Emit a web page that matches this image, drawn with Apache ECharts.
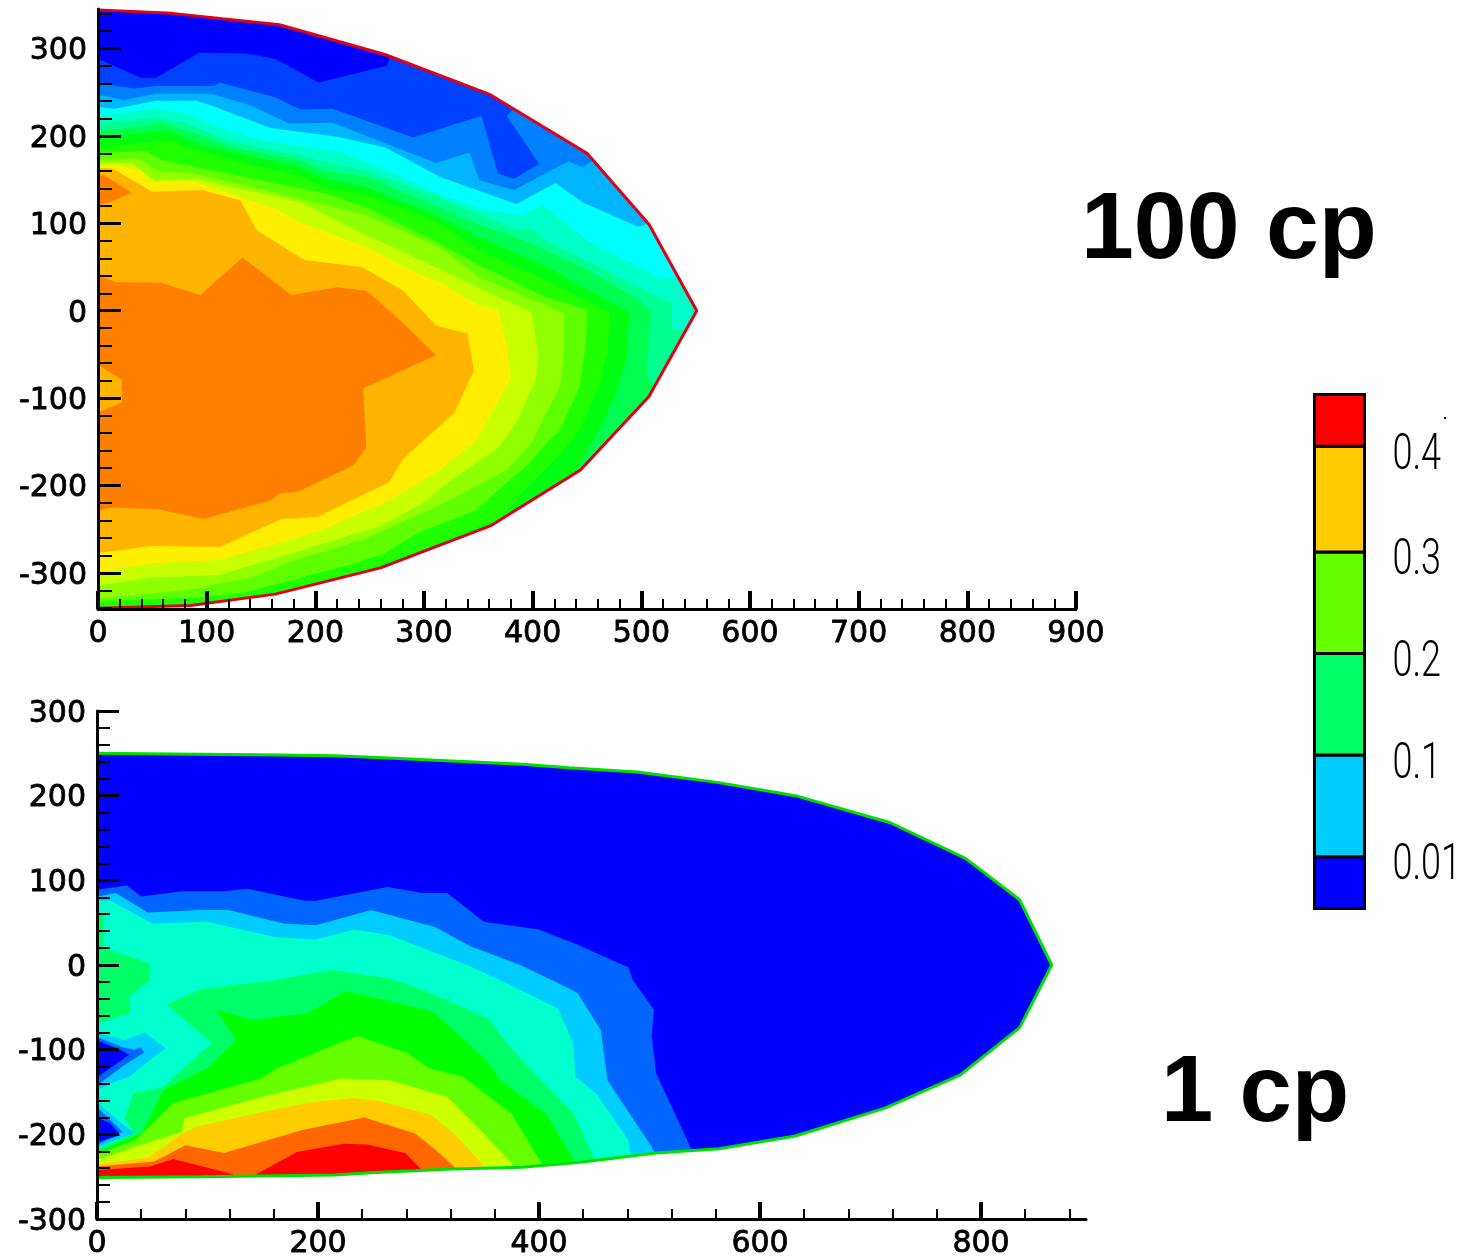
<!DOCTYPE html>
<html><head><meta charset="utf-8">
<style>html,body{margin:0;padding:0;background:#fff}#c{width:1462px;height:1256px}</style>
<script src="https://cdn.jsdelivr.net/npm/echarts@6/dist/echarts.min.js"></script>
</head><body><div id="c"></div>
<script>
// ---------- tick labels ----------
const topXMajor=[0,100,200,300,400,500,600,700,800,900];
const topXMinor=[20,40,60,80,120,140,160,180,220,240,260,280,320,340,360,380,420,440,460,480,520,540,560,580,620,640,660,680,720,740,760,780,820,840,860,880];
const topYMajor=[-300,-200,-100,0,100,200,300];
const topYMinor=[-340,-320,-280,-260,-240,-220,-180,-160,-140,-120,-80,-60,-40,-20,20,40,60,80,120,140,160,180,220,240,260,280,320,340];
const botXMajor=[0,200,400,600,800];
const botXMinor=[40,80,120,160,240,280,320,360,440,480,520,560,640,680,720,760,840,880];
const botYMajor=[-300,-200,-100,0,100,200,300];
const botYMinor=[-280,-260,-240,-220,-180,-160,-140,-120,-80,-60,-40,-20,20,40,60,80,120,140,160,180,220,240,260,280];

// ---------- 100 cp: outline and contour lines (x, y) ----------
const topOutline=[[0,344],[68,340],[167,327],[264,293],[361,247],[450,180],[507,99],[551,0],[507,-98],[444,-182],[361,-246],[260,-294],[163,-324],[85,-337],[0,-340]];
const topC1=[[0,288],[13,281],[40,266],[53,266],[93,295],[136,294],[163,288],[203,261],[266,280],[269,293],[275,310]];
const topC2=[[0,260],[34,254],[53,257],[106,257],[112,261],[163,244],[186,230],[216,231],[290,198],[353,223],[368,157],[383,151],[406,168],[376,223],[383,231],[395,245]];
const topC3=[[0,247],[24,241],[53,248],[104,248],[140,235],[176,214],[216,215],[311,169],[342,181],[351,149],[383,138],[433,171],[446,164],[452,169],[465,180]];
const topC4=[[0,233],[15,231],[53,240],[91,240],[108,233],[159,209],[220,199],[264,187],[315,153],[385,122],[421,146],[446,124],[497,96],[507,100],[520,110]];
const topC5=[[0,223],[52,231],[80,226],[119,206],[151,195],[186,188],[225,181],[278,154],[317,132],[351,117],[390,109],[409,121],[450,81],[517,38],[535,37],[560,37]];
const topC6=[[0,214],[52,221],[80,215],[119,195],[151,186],[186,178],[209,170],[247,160],[314,129],[381,95],[391,92],[397,95],[415,78],[455,54],[507,20],[528,9],[528,-20],[538,-22],[560,-25]];
const topC7=[[0,205],[59,214],[89,203],[126,186],[186,172],[209,160],[247,153],[314,118],[351,98],[392,81],[452,46],[498,12],[509,-2],[505,-76],[512,-85],[526,-102]];
const topC8=[[0,198],[64,206],[98,189],[186,164],[209,151],[247,141],[308,111],[351,84],[413,50],[489,-2],[486,-57],[477,-94],[461,-137],[452,-157],[443,-177],[434,-199]];
const topC9=[[0,186],[64,195],[105,178],[186,154],[209,141],[247,132],[314,101],[351,69],[413,35],[471,-2],[469,-45],[461,-87],[443,-137],[420,-171],[388,-211],[372,-236],[296,-274],[239,-299],[232,-319]];
const topC10=[[0,180],[43,183],[59,172],[119,157],[209,134],[247,118],[308,81],[351,52],[413,15],[450,1],[449,-37],[443,-87],[425,-137],[415,-148],[397,-174],[360,-214],[348,-228],[296,-253],[264,-277],[236,-289],[187,-305],[135,-322],[89,-328],[0,-332]];
const topC11=[[0,172],[37,174],[55,160],[89,157],[144,141],[209,121],[247,109],[314,73],[351,38],[429,-3],[429,-49],[425,-87],[409,-125],[399,-151],[376,-182],[339,-207],[305,-228],[243,-262],[181,-285],[142,-305],[85,-319],[0,-329]];
const topC12=[[0,169],[31,169],[52,149],[89,151],[151,134],[186,124],[247,86],[278,69],[351,26],[399,-2],[405,-49],[403,-79],[386,-125],[369,-156],[348,-174],[321,-197],[299,-220],[259,-247],[218,-262],[163,-283],[112,-302],[49,-305],[0,-314]];
const topC13=[[0,166],[19,166],[39,160],[51,147],[87,148],[163,117],[186,101],[247,73],[293,43],[311,35],[351,6],[368,1],[376,-37],[380,-76],[369,-102],[348,-148],[315,-182],[268,-217],[205,-251],[159,-268],[112,-285],[45,-289],[0,-299]];
const topC14=[[0,163],[13,163],[50,136],[96,138],[131,126],[146,92],[190,58],[243,50],[281,23],[311,-17],[340,-26],[346,-68],[328,-117],[281,-169],[268,-196],[201,-236],[169,-238],[112,-270],[49,-269],[0,-277]];
const topC15=[[0,41],[16,33],[58,32],[94,18],[133,61],[178,18],[220,27],[247,23],[281,-14],[311,-51],[244,-89],[247,-156],[235,-177],[184,-207],[167,-209],[159,-217],[97,-238],[55,-227],[13,-225],[0,-228]];
const topNotch=[[0,-62],[22,-79],[22,-105],[0,-116]];
const topPeak=[[0,155],[6,155],[31,135],[9,123],[0,121]];
const topColors=['#0000ff','#0040ff','#0080ff','#00b4ff','#00ffff','#00ffc8','#00ff90','#00ff50','#00ff10','#20ff00','#60ff00','#90ff00','#c8ff00','#ffee00','#ffb400','#ff8000'];

// ---------- 1 cp ----------
const botOutline=[[0,250],[165,248],[215,247],[254,245],[288,243],[321,241],[385,237],[427,233],[489,228],[560,216],[632,200],[718,168],[786,126],[835,77],[864,0],[835,-74],[781,-130],[713,-169],[632,-202],[563,-217],[506,-222],[437,-233],[385,-239],[321,-241],[288,-243],[252,-245],[215,-248],[94,-250],[0,-251]];
const botC1=[[0,89],[27,94],[40,81],[77,87],[115,87],[136,90],[188,76],[198,76],[263,92],[294,85],[317,85],[350,51],[400,42],[435,24],[481,-3],[485,-18],[504,-53],[502,-85],[506,-128],[537,-215],[545,-240]];
const botC2=[[0,81],[17,85],[46,62],[94,65],[119,65],[169,49],[198,47],[248,65],[306,45],[338,22],[383,0],[412,-18],[435,-33],[456,-77],[462,-136],[502,-215],[506,-224],[515,-240]];
const botC3=[[0,76],[13,76],[50,49],[100,51],[161,33],[198,30],[233,42],[265,35],[335,0],[365,-18],[417,-51],[431,-92],[433,-132],[452,-152],[481,-207],[483,-226],[490,-245]];
const botLobe=[[0,61],[6,60],[6,20],[48,2],[48,-18],[30,-37],[30,-57],[0,-69]];
const botC4=[[0,-218],[34,-198],[25,-181],[33,-151],[59,-145],[104,-92],[63,-47],[95,-28],[161,-18],[211,-6],[265,-16],[296,-30],[354,-63],[373,-96],[402,-136],[431,-175],[452,-233],[460,-250]];
const botC5=[[0,-221],[41,-198],[60,-148],[100,-122],[126,-89],[108,-53],[140,-65],[190,-57],[225,-31],[304,-55],[352,-112],[365,-136],[406,-175],[433,-234],[440,-250]];
const botC6=[[0,-224],[34,-207],[48,-190],[69,-163],[148,-134],[161,-123],[225,-89],[236,-84],[281,-104],[300,-122],[331,-132],[375,-175],[402,-234],[408,-250]];
const botC7=[[0,-230],[34,-215],[77,-197],[79,-181],[154,-154],[221,-134],[265,-136],[317,-156],[344,-191],[375,-234],[382,-250]];
const botC8=[[0,-236],[47,-227],[77,-199],[90,-191],[152,-173],[190,-163],[231,-157],[256,-161],[302,-177],[323,-199],[348,-234],[355,-250]];
const botC9=[[0,-238],[52,-232],[80,-213],[115,-222],[186,-195],[242,-180],[288,-199],[306,-218],[323,-238],[335,-255]];
const botC10a=[[0,-242],[48,-238],[69,-229],[123,-247],[123,-262],[0,-262]];
const botC10b=[[140,-250],[181,-221],[223,-211],[244,-212],[279,-222],[294,-242],[300,-262],[140,-262]];
const botHole1a=[[0,-80],[25,-89],[43,-80],[62,-98],[29,-132],[14,-139],[0,-148]];
const botHole1b=[[0,-85],[23,-97],[34,-100],[39,-97],[43,-103],[25,-118],[0,-142]];
const botHole1c=[[0,-89],[21,-100],[29,-106],[0,-133]];
const botHole2a=[[0,-162],[24,-189],[34,-198],[11,-210],[0,-216]];
const botHole2b=[[0,-168],[23,-197],[0,-213]];
const botHole2c=[[0,-180],[12,-187],[21,-201],[0,-209]];
const botColors=['#0000ff','#0066ff','#00ccff','#00ffcc','#00ff66','#00ff00','#66ff00','#ccff00','#ffcc00','#ff6600','#ff0000'];

// ---------- colour bar ----------
const legendColors=['#0000ff','#00ccff','#00ff66','#66ff00','#ffcc00','#ff0000'];
const legendEdges=[0,0.51,1.51,2.51,3.51,4.55,5.06];
const legendLabels=['0.01','0.1','0.2','0.3','0.4'];

// ---------- build ----------
function openBand(c,w,h){const e=c[c.length-1];return c.concat([[w,e[1]],[w,h],[-10,h],[-10,c[0][1]]]);}
const TW=700,TH=-420,BW=1000,BH=-330;
const topList=[topOutline,
  ...[topC1,topC2,topC3,topC4,topC5,topC6,topC7,topC8,topC9].map(c=>openBand(c,TW,TH)),
  topC10,topC11,topC12,topC13,topC14,topC15].map((pts,i)=>({pts,color:topColors[i]}));
topList.push({pts:topNotch,color:topColors[14]});
topList.push({pts:topPeak,color:topColors[15]});
const botList=[
 {pts:botOutline,color:botColors[0]},
 {pts:openBand(botC1,BW,BH),color:botColors[1]},
 {pts:openBand(botC2,BW,BH),color:botColors[2]},
 {pts:openBand(botC3,BW,BH),color:botColors[3]},
 {pts:botLobe,color:botColors[4]},
 {pts:openBand(botC4,BW,BH),color:botColors[4]},
 {pts:openBand(botC5,BW,BH),color:botColors[5]},
 {pts:openBand(botC6,BW,BH),color:botColors[6]},
 {pts:openBand(botC7,BW,BH),color:botColors[7]},
 {pts:openBand(botC8,BW,BH),color:botColors[8]},
 {pts:openBand(botC9,BW,BH),color:botColors[9]},
 {pts:botC10a,color:botColors[10]},
 {pts:botC10b,color:botColors[10]},
 {pts:botHole1a,color:botColors[2]},
 {pts:botHole1b,color:botColors[1]},
 {pts:botHole1c,color:botColors[0]},
 {pts:botHole2a,color:botColors[2]},
 {pts:botHole2b,color:botColors[1]},
 {pts:botHole2c,color:botColors[0]}
];
function contour(list,outline){
  return function(params,api){
    const s=list[params.dataIndex];
    return {type:'polygon',
      shape:{points:s.pts.map(p=>api.coord(p))},
      style:{fill:s.color},
      clipPath:{type:'polygon',shape:{points:outline.map(p=>api.coord(p))}}};
  };
}
const tickFont={color:'#000',fontFamily:'DejaVu Sans',fontSize:30,textBorderColor:'#000',textBorderWidth:0.8};
function axes(kind,grid,min,max,major,minor,majLen,minLen,majW,minW,margin){
  const label=Object.assign({show:true,margin,customValues:major,showMinLabel:true,showMaxLabel:true,hideOverlap:false},tickFont);
  if(kind==='y'){
    label.formatter=v=>'{d|'+v+'}';
    label.rich={d:Object.assign({padding:[6,0,0,0]},tickFont)};
  }
  const main={type:'value',gridIndex:grid,min,max,z:10,splitLine:{show:false},
    axisLine:{show:true,onZero:false,lineStyle:{color:'#000',width:3}},
    axisTick:{show:true,inside:true,length:majLen,customValues:major,lineStyle:{color:'#000',width:majW}},
    axisLabel:label};
  const sub={type:'value',gridIndex:grid,min,max,z:10,splitLine:{show:false},
    axisLine:{show:false,onZero:false},
    axisTick:{show:true,inside:true,length:minLen,customValues:minor,lineStyle:{color:'#000',width:minW}},
    axisLabel:{show:false}};
  main.position=sub.position=(kind==='x'?'bottom':'left');
  return [main,sub];
}
const chart=echarts.init(document.getElementById('c'),null,{renderer:'canvas'});
function legendItem(params,api){
  const i=params.dataIndex;
  const a=api.coord([0,legendEdges[i]]),b=api.coord([1,legendEdges[i+1]]);
  const children=[{type:'rect',shape:{x:a[0],y:b[1],width:b[0]-a[0],height:a[1]-b[1]},
    style:{fill:legendColors[i],stroke:'#000',lineWidth:3}}];
  if(i<legendLabels.length){
    children.push({type:'text',x:b[0]+28,y:b[1]+10,scaleX:0.72,scaleY:1,
      style:{text:legendLabels[i],fill:'#000',font:'300 50px Roboto, "Liberation Sans"',textAlign:'left',textVerticalAlign:'middle'}});
  }
  return {type:'group',children};
}
chart.setOption({
  animation:false,
  backgroundColor:'#fff',
  grid:[
    {left:98,top:9,width:978,height:600,outerBoundsMode:'none'},
    {left:97,top:711,width:989,height:508,outerBoundsMode:'none'},
    {left:1314.5,top:394.5,width:50,height:514,show:false,outerBoundsMode:'none'}
  ],
  xAxis:[
    ...axes('x',0,0,900,topXMajor,topXMinor,18,10,4,2,10),
    ...axes('x',1,0,895,botXMajor,botXMinor,17,10,4,2,10),
    {type:'value',gridIndex:2,min:0,max:1,show:false}
  ],
  yAxis:[
    ...axes('y',0,-341,345,topYMajor,topYMinor,23,14,3,2,11),
    ...axes('y',1,-300,300,botYMajor,botYMinor,22,13,3,2,11),
    {type:'value',gridIndex:2,min:0,max:5.06,show:false}
  ],
  graphic:[
    {type:'text',left:1081,top:184,style:{text:'100 cp',font:'bold 95px "Liberation Sans"',fill:'#000'}},
    {type:'text',left:1161,top:1048,style:{text:'1 cp',font:'bold 94px "Liberation Sans"',fill:'#000'}},
    {type:'rect',left:1444,top:417,shape:{width:2,height:2},style:{fill:'#000'}}
  ],
  series:[
    {type:'custom',xAxisIndex:0,yAxisIndex:0,z:2,renderItem:contour(topList,topOutline),data:topList.map((_,i)=>[i,0]),silent:true},
    {type:'line',xAxisIndex:0,yAxisIndex:0,z:3,data:topOutline,showSymbol:false,symbol:'none',lineStyle:{color:'#e00018',width:3},silent:true},
    {type:'custom',xAxisIndex:2,yAxisIndex:2,z:2,renderItem:contour(botList,botOutline),data:botList.map((_,i)=>[i,0]),silent:true},
    {type:'line',xAxisIndex:2,yAxisIndex:2,z:3,data:botOutline,showSymbol:false,symbol:'none',lineStyle:{color:'#00e000',width:3},silent:true},
    {type:'custom',xAxisIndex:4,yAxisIndex:4,z:2,renderItem:legendItem,data:legendColors.map((_,i)=>[i,0]),silent:true}
  ]
});
</script></body></html>
